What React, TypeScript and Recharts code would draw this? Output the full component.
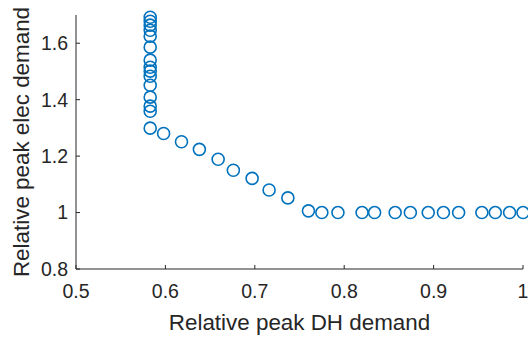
import React from 'react';
import { ScatterChart, Scatter, XAxis, YAxis } from 'recharts';

// relative peak DH demand (x) vs relative peak elec demand (y)
const dhDemand = [
  0.583, 0.583, 0.583, 0.583, 0.583, 0.583, 0.583, 0.583, 0.583, 0.583, 0.583, 0.583, 0.583, 0.583, 0.583,
  0.598, 0.618, 0.638, 0.659, 0.676, 0.697, 0.716, 0.737, 0.76,
  0.775, 0.793, 0.82, 0.834, 0.857, 0.874, 0.894, 0.911, 0.928, 0.954, 0.969, 0.985, 1.0,
];
const elecDemand = [
  1.692, 1.678, 1.664, 1.646, 1.625, 1.586, 1.54, 1.515, 1.501, 1.483, 1.451, 1.409, 1.377, 1.359, 1.299,
  1.28, 1.251, 1.224, 1.189, 1.15, 1.121, 1.08, 1.052, 1.006,
  1, 1, 1, 1, 1, 1, 1, 1, 1, 1, 1, 1, 1,
];
const xTicks = [0.5, 0.6, 0.7, 0.8, 0.9, 1];
const yTicks = [0.8, 1, 1.2, 1.4, 1.6];

const data = dhDemand.map((x, i) => ({ x, y: elecDemand[i] }));

const FONT = '"Liberation Sans", Arial, Helvetica, sans-serif';
const INK = '#262626';

export default function App() {
  return (
    <div style={{ position: 'absolute', left: 0, top: 0, width: 528, height: 338, background: '#fff', fontFamily: FONT }}>
      <ScatterChart width={528} height={338} margin={{ top: 15, right: 5, bottom: 0, left: 0 }}>
        <XAxis
          type="number"
          dataKey="x"
          domain={[0.5, 1]}
          ticks={xTicks}
          height={69}
          stroke={INK}
          tickSize={-4}
          tickMargin={19}
          tick={{ fill: INK, fontSize: 19.5, fontFamily: FONT }}
          interval={0}
          label={{ value: 'Relative peak DH demand', position: 'insideBottom', offset: 8, fill: INK, fontSize: 22.4, fontFamily: FONT }}
        />
        <YAxis
          type="number"
          dataKey="y"
          domain={[0.8, 1.7]}
          ticks={yTicks}
          width={76}
          stroke={INK}
          tickSize={-4}
          tickMargin={12}
          tick={{ fill: INK, fontSize: 19.5, fontFamily: FONT }}
          interval={0}
          label={{ value: 'Relative peak elec demand', angle: -90, position: 'insideLeft', offset: 21, fill: INK, fontSize: 22.4, fontFamily: FONT, style: { textAnchor: 'middle' } }}
        />
        <Scatter
          data={data}
          isAnimationActive={false}
          shape={(props: any) => (
            <circle cx={props.cx} cy={props.cy} r={6} fill="none" stroke="#0072BD" strokeWidth={1.6} />
          )}
        />
      </ScatterChart>
    </div>
  );
}
